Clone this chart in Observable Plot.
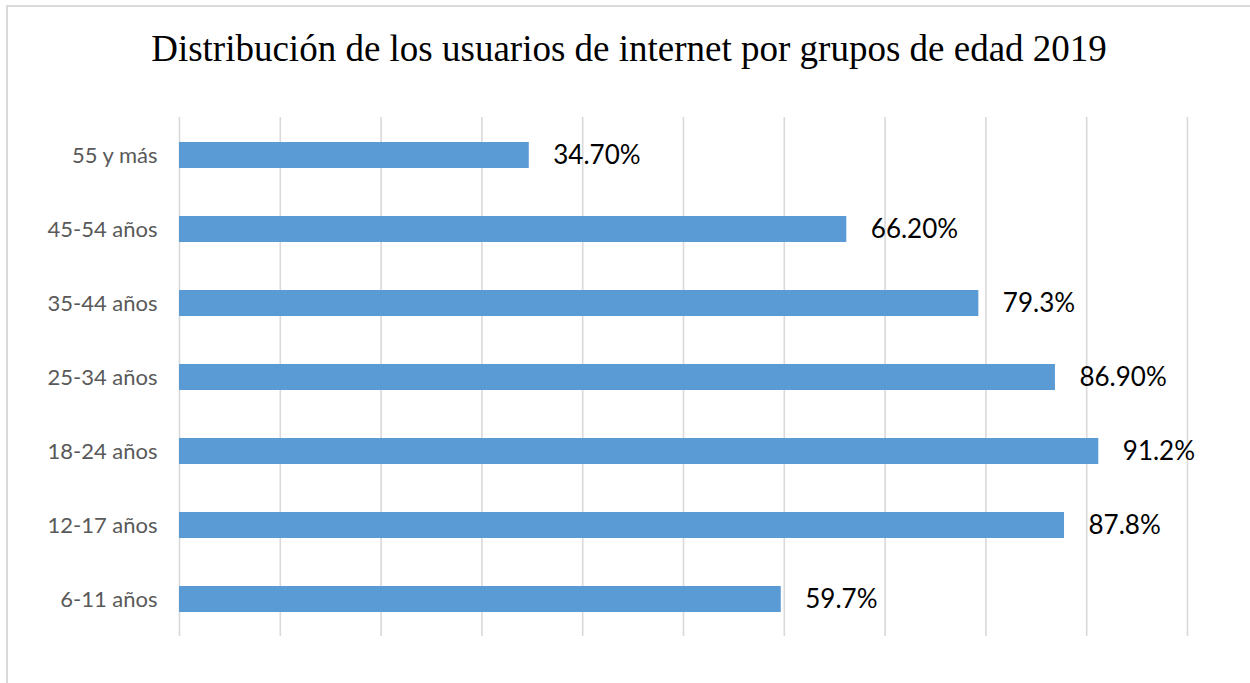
<!DOCTYPE html>
<html>
<head>
<meta charset="utf-8">
<script src="https://cdn.jsdelivr.net/npm/d3@7"></script>
<script src="https://cdn.jsdelivr.net/npm/@observablehq/plot@0.6"></script>
<style>
  html, body { margin: 0; padding: 0; background: #fff; width: 1250px; height: 683px; overflow: hidden; }
  #frame { position: absolute; left: 6px; top: 5px; width: 1300px; height: 720px; border: 2px solid #d9d9d9; box-sizing: border-box; }
  #title { position: absolute; left: 0; top: 0; width: 1258px; height: 100px; text-align: center;
    font-family: "Liberation Serif", "Times New Roman", serif; font-size: 37px; line-height: 37px; color: #000; }
  #title span { position: absolute; left: 0; right: 0; top: 30px; }
  #chart { position: absolute; left: 0; top: 100px; }
</style>
</head>
<body>
<div id="frame"></div>
<div id="title"><span>Distribución de los usuarios de internet por grupos de edad 2019</span></div>
<div id="chart"></div>
<script>
const groups = ["55 y más", "45-54 años", "35-44 años", "25-34 años", "18-24 años", "12-17 años", "6-11 años"];
const values = [34.7, 66.2, 79.3, 86.9, 91.2, 87.8, 59.7];
const labels = ["34.70%", "66.20%", "79.3%", "86.90%", "91.2%", "87.8%", "59.7%"];
const gridTicks = [0, 10, 20, 30, 40, 50, 60, 70, 80, 90, 100];

const data = groups.map((g, i) => ({group: g, value: values[i], label: labels[i]}));

const chart = Plot.plot({
  width: 1250,
  height: 583,
  marginTop: 17,
  marginBottom: 47,
  marginLeft: 179,
  marginRight: 63,
  style: {background: "transparent"},
  x: {domain: [0, 100], axis: null},
  y: {domain: groups, paddingInner: 0.65, paddingOuter: 0.325, label: null},
  marks: [
    Plot.ruleX(gridTicks, {stroke: "#d9d9d9", strokeWidth: 1.6}),
    Plot.barX(data, {x: "value", y: "group", fill: "#5b9bd5"}),
    Plot.axisY({tickSize: 0, tickPadding: 22, fontSize: 22, fill: "#595959", fontFamily: "Lato, sans-serif", label: null}),
    Plot.text(data, {x: "value", y: "group", text: "label", textAnchor: "start", dx: 24, dy: 0,
      fontSize: 26, fill: "#000", fontFamily: "Lato, sans-serif"})
  ]
});
document.getElementById("chart").appendChild(chart);
</script>
</body>
</html>
